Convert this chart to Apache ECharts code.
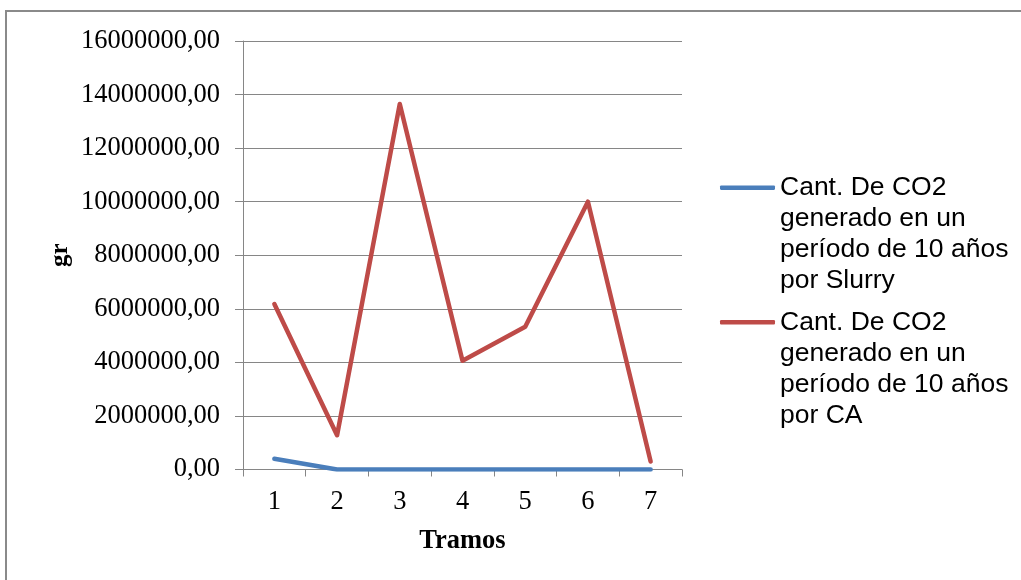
<!DOCTYPE html>
<html>
<head>
<meta charset="utf-8">
<script src="https://cdn.jsdelivr.net/npm/echarts@6/dist/echarts.min.js"></script>
<style>
html,body{margin:0;padding:0;background:#fff;}
#chart{width:1021px;height:580px;}
</style>
</head>
<body>
<div id="chart"></div>
<script>
const categories = ['1', '2', '3', '4', '5', '6', '7'];
const slurryValues = [400000, 0, 0, 0, 0, 0, 0];
const caValues = [6180000, 1280000, 13650000, 4060000, 5330000, 10000000, 300000];
const seriesNames = [
  'Cant. De CO2\ngenerado en un\nperíodo de 10 años\npor Slurry',
  'Cant. De CO2\ngenerado en un\nperíodo de 10 años\npor CA'
];
const xAxisTitle = 'Tramos';
const yAxisTitle = 'gr';

const chart = echarts.init(document.getElementById('chart'), null, {renderer: 'canvas'});
const serif = 'Liberation Serif, Times New Roman, serif';
const sans = 'Liberation Sans, Arial, sans-serif';
const lh = 31;
const legendText = {fontFamily: sans, fontSize: 26.5, color: '#000', lineHeight: lh};
function legendAt(name, iconCenterY) {
  return {
    data: [name], left: 720, top: iconCenterY - 3.5 * lh, orient: 'vertical', padding: 0,
    icon: 'roundRect', itemWidth: 55, itemHeight: 4.5,
    textStyle: legendText, selectedMode: false,
    formatter: n => '\n\n\n' + n
  };
}
chart.setOption({
  animation: false,
  backgroundColor: '#fff',
  graphic: [{
    type: 'rect', shape: {x: 6, y: 11, width: 1200, height: 1000},
    style: {fill: 'none', stroke: '#8a8a8a', lineWidth: 2}, silent: true
  }],
  grid: {left: 243, right: 339, top: 41, bottom: 110.5},
  legend: [legendAt(seriesNames[0], 187.7), legendAt(seriesNames[1], 322.3)],
  xAxis: {
    type: 'category', data: categories, boundaryGap: true,
    name: xAxisTitle, nameLocation: 'middle', nameGap: 58,
    nameTextStyle: {fontFamily: serif, fontSize: 26.5, fontWeight: 'bold', color: '#000'},
    axisLine: {lineStyle: {color: '#868686', width: 1}},
    axisTick: {show: true, length: 7, interval: 0, lineStyle: {color: '#868686'}},
    axisLabel: {fontFamily: serif, fontSize: 26.5, color: '#000', margin: 19, interval: 0},
    splitLine: {show: false}
  },
  yAxis: {
    type: 'value', min: 0, max: 16000000, interval: 2000000,
    name: yAxisTitle, nameLocation: 'middle', nameGap: 170, nameRotate: 90,
    nameTextStyle: {fontFamily: serif, fontSize: 25, fontWeight: 'bold', color: '#000'},
    axisLine: {show: true, lineStyle: {color: '#868686', width: 1}},
    axisTick: {show: true, length: 8, lineStyle: {color: '#868686'}},
    axisLabel: {
      fontFamily: serif, fontSize: 26.5, color: '#000', margin: 23,
      formatter: v => v.toFixed(2).replace('.', ',')
    },
    splitLine: {show: true, lineStyle: {color: '#868686', width: 1}}
  },
  series: [
    {
      name: seriesNames[0], type: 'line', data: slurryValues, symbol: 'none',
      itemStyle: {color: '#4A7EBB'},
      lineStyle: {color: '#4A7EBB', width: 4.5, cap: 'round', join: 'round'}
    },
    {
      name: seriesNames[1], type: 'line', data: caValues, symbol: 'none',
      itemStyle: {color: '#BE4B48'},
      lineStyle: {color: '#BE4B48', width: 4.5, cap: 'round', join: 'round'}
    }
  ]
});
</script>
</body>
</html>
